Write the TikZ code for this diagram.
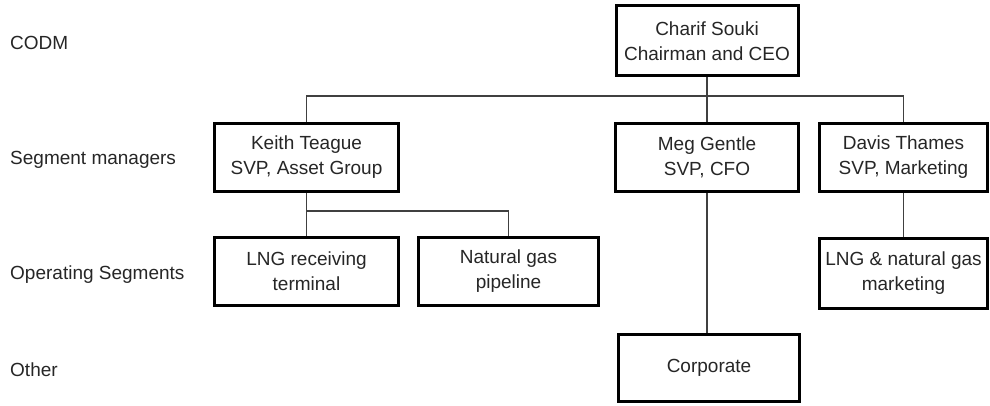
\documentclass[tikz,border=0pt]{standalone}
\usepackage{fontspec}
\setmainfont{Liberation Sans}
\begin{document}
\begin{tikzpicture}[x=1pt,y=-1pt,
  box/.style={draw=black,line width=3pt,fill=white,align=center,inner sep=0pt,
    font=\fontsize{19}{25}\selectfont,text=black!85},
  lvl/.style={anchor=west,inner sep=0pt,font=\fontsize{19}{23}\selectfont,text=black!85},
  conn/.style={line width=1.4pt,draw=black!75}]
\useasboundingbox (0,0) rectangle (990,406);
% level labels
\node[lvl] (l1) at (10,43) {CODM};
\node[lvl] (l2) at (10,160) {Segment managers};
\node[lvl] (l3) at (10,275) {Operating Segments};
\node[lvl] (l4) at (10,370) {Other};
% boxes
\node[box,minimum width=182pt,minimum height=70pt] (ceo) at (707,41) {Charif Souki\\Chairman and CEO};
\node[box,minimum width=184pt,minimum height=68pt] (keith) at (306.5,157.5) {Keith Teague\\SVP, Asset Group};
\node[box,minimum width=183pt,minimum height=68pt] (meg) at (707,157.5) {Meg Gentle\\SVP, CFO};
\node[box,minimum width=168pt,minimum height=68pt] (davis) at (903.5,157.5) {Davis Thames\\SVP, Marketing};
\node[box,minimum width=184pt,minimum height=68pt] (lngrt) at (306.5,271.5) {LNG receiving\\terminal};
\node[box,minimum width=180pt,minimum height=68pt] (ngp) at (508.5,271.5) {Natural gas\\pipeline};
\node[box,minimum width=168pt,minimum height=70pt] (mkt) at (903.5,273.5) {LNG \& natural gas\\marketing};
\node[box,minimum width=181pt,minimum height=67pt] (corp) at (709,368) {Corporate};
% connectors
\draw[conn] (ceo.south) -- (meg.north);
\draw[conn] (keith.north) -- ++(0,-26) -| (davis.north);
\draw[conn] (keith.south) -- (lngrt.north);
\draw[conn] (keith.south) -- ++(0,18) -| (ngp.north);
\draw[conn] (meg.south) -- (meg.south |- corp.north);
\draw[conn] (davis.south) -- (mkt.north);
\end{tikzpicture}
\end{document}
